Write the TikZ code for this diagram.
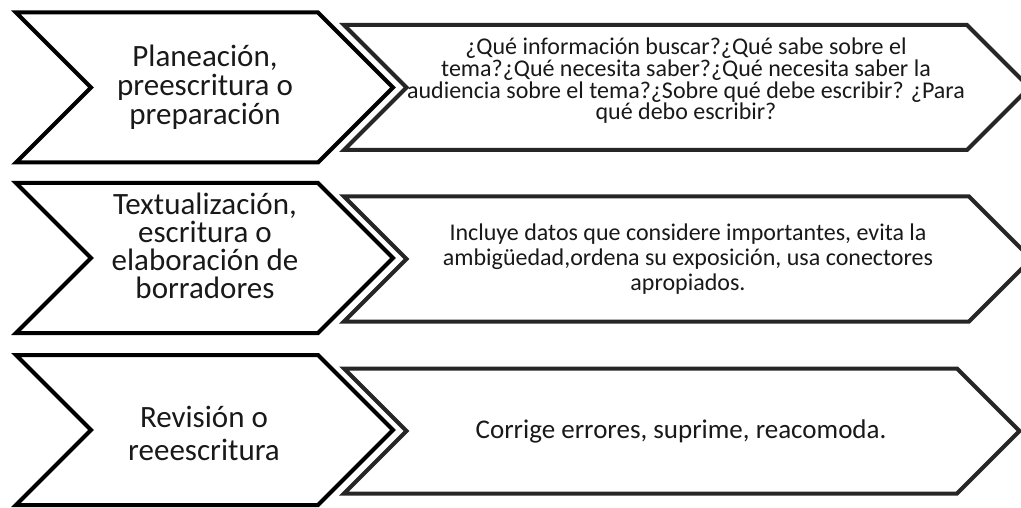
\documentclass[tikz,border=0pt]{standalone}
\usepackage{fontspec}
\setmainfont{Carlito}
\def\chevron[#1](#2,#3)(#4:#5){\draw[#1] (#2,#3-#5) -- (#4,#3-#5) -- (#4+#5,#3) -- (#4,#3+#5) -- (#2,#3+#5) -- (#2+#5,#3) -- cycle;}

\begin{document}
\begin{tikzpicture}[x=1pt, y=-1pt,
	paso/.style={line width=4pt, draw=black, fill=white},
	detalle/.style={line width=4pt, draw=black!85, fill=white},
	titulo/.style={align=center, text=black!90, font={\fontsize{31pt}{29pt}\selectfont}},
	texto/.style={align=center, text=black!90}]
			%%%%% START %%%%%
			
			\clip (0, 0) rectangle (1021, 508);
			
			\chevron[detalle](344, 87.5)(967:62.5)
			\chevron[paso](16, 87.5)(318:75)
			\node[titulo] (planeacion) at (205, 87) {Planeación,\\preescritura o\\preparación};
			\node[texto, font={\fontsize{24pt}{20pt}\selectfont}] (preguntas) at (686, 81) {¿Qué información buscar?¿Qué sabe sobre el\\tema?¿Qué necesita saber?¿Qué necesita saber la\\audiencia sobre el tema?¿Sobre qué debe escribir? ¿Para\\qué debo escribir?};
			
			\chevron[detalle](344, 259)(969:62.5)
			\chevron[paso](16, 258)(318:75)
			\node[titulo, font={\fontsize{31pt}{28pt}\selectfont}] (textualizacion) at (205, 246) {Textualización,\\escritura o\\elaboración de\\borradores};
			\node[texto, font={\fontsize{24pt}{25pt}\selectfont}] (datos) at (688, 259) {Incluye datos que considere importantes, evita la\\ambigüedad,ordena su exposición, usa conectores\\apropiados.};
			
			\chevron[detalle](344, 431)(957:62.5)
			\chevron[paso](16, 430)(318:75)
			\node[titulo, font={\fontsize{31pt}{33pt}\selectfont}] (revision) at (204, 433) {Revisión o\\reeescritura};
			\node[texto, font={\fontsize{27pt}{28pt}\selectfont}] (correccion) at (681, 431) {Corrige errores, suprime, reacomoda.};
			
			%%%%% END %%%%%
\end{tikzpicture}
\end{document}
